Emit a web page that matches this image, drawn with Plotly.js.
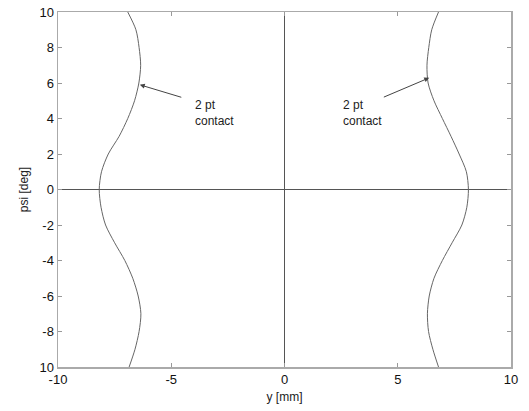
<!DOCTYPE html>
<html>
<head>
<meta charset="utf-8">
<script src="https://cdn.plot.ly/plotly-3.0.1.min.js"></script>
<style>html,body{margin:0;padding:0;background:#fff;}#chart{width:529px;height:411px;}</style>
</head>
<body>
<div id="chart"></div>
<script>
// psi values [deg]
const psi = [10, 9, 8, 7, 6, 5, 4, 3, 2, 1, 0, -1, -2, -3, -4, -5, -6, -7, -8, -9, -10];
// left boundary y [mm]
const yLeft = [-6.92, -6.56, -6.42, -6.35, -6.43, -6.62, -6.92, -7.3, -7.78, -8.08, -8.18, -8.1, -7.9, -7.5, -7.05, -6.7, -6.46, -6.34, -6.42, -6.6, -6.86];
// right boundary y [mm]
const yRight = [6.8, 6.5, 6.37, 6.29, 6.34, 6.6, 6.97, 7.35, 7.71, 8.03, 8.12, 8.05, 7.83, 7.4, 6.97, 6.6, 6.39, 6.31, 6.36, 6.55, 6.8];
const yTickVals = [-10, -8, -6, -4, -2, 0, 2, 4, 6, 8, 10];
const yTickText = ['10', '-8', '-6', '-4', '-2', '0', '2', '4', '6', '8', '10'];
const xTickVals = [-10, -5, 0, 5, 10];
const xTickText = ['-10', '-5', '0', '5', '10'];

const lineStyle = {color: '#666', width: 1, shape: 'spline', smoothing: 0.8};
const traces = [
  {x: yLeft, y: psi, mode: 'lines', line: lineStyle, hoverinfo: 'skip'},
  {x: yRight, y: psi, mode: 'lines', line: lineStyle, hoverinfo: 'skip'}
];

const fam = 'Liberation Sans, Arial, sans-serif';
const font = {family: fam, size: 12, color: '#222'};
const tickFont = {family: fam, size: 13, color: '#111'};
const layout = {
  width: 529, height: 411,
  margin: {l: 58, r: 18, t: 12, b: 44, pad: 0},
  paper_bgcolor: '#fff', plot_bgcolor: '#fff',
  showlegend: false,
  font: font,
  xaxis: {
    range: [-10, 10], tickvals: xTickVals, ticktext: xTickText, ticks: 'inside', ticklen: 4, tickcolor: '#999',
    showline: true, linecolor: '#aaa', linewidth: 1.5, mirror: 'ticks',
    showgrid: false, zeroline: true, zerolinecolor: '#555', zerolinewidth: 1,
    tickfont: tickFont,
    title: {text: 'y [mm]', font: {family: fam, size: 12, color: '#222'}, standoff: 6}
  },
  yaxis: {
    range: [-10, 10], tickvals: yTickVals, ticktext: yTickText, ticks: 'inside', ticklen: 4, tickcolor: '#999',
    showline: true, linecolor: '#aaa', linewidth: 1.5, mirror: 'ticks',
    showgrid: false, zeroline: true, zerolinecolor: '#555', zerolinewidth: 1,
    tickfont: tickFont,
    title: {text: 'psi [deg]', font: {family: fam, size: 12, color: '#222'}, standoff: 8}
  },
  annotations: [
    {x: -6.39, y: 5.9, ax: -4.49, ay: 5.17, axref: 'x', ayref: 'y', xref: 'x', yref: 'y',
     text: '', showarrow: true, arrowhead: 2, arrowsize: 1, arrowwidth: 1, arrowcolor: '#444', standoff: 0},
    {x: -4.05, y: 4.33, xref: 'x', yref: 'y', text: '2 pt<br>contact', showarrow: false,
     xanchor: 'left', yanchor: 'middle', align: 'left', font: font},
    {x: 6.39, y: 6.29, ax: 4.32, ay: 5.17, axref: 'x', ayref: 'y', xref: 'x', yref: 'y',
     text: '', showarrow: true, arrowhead: 2, arrowsize: 1, arrowwidth: 1, arrowcolor: '#444', standoff: 0},
    {x: 2.51, y: 4.33, xref: 'x', yref: 'y', text: '2 pt<br>contact', showarrow: false,
     xanchor: 'left', yanchor: 'middle', align: 'left', font: font}
  ]
};
Plotly.newPlot('chart', traces, layout, {displayModeBar: false, staticPlot: true});
</script>
</body>
</html>
